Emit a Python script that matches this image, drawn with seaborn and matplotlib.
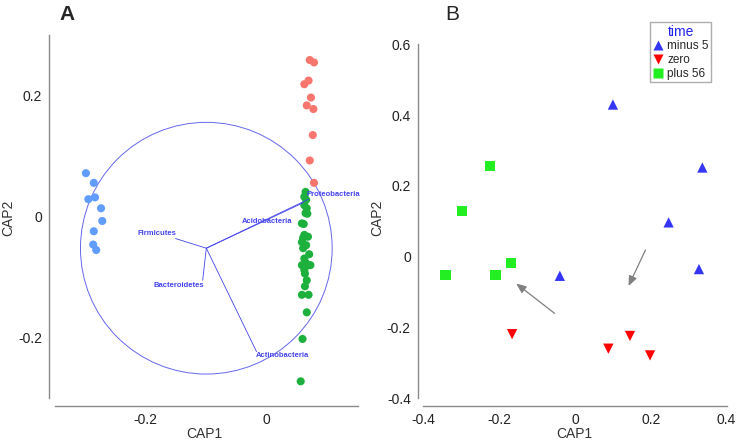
import numpy as np
import pandas as pd
import seaborn as sns
import matplotlib.pyplot as plt
from matplotlib.patches import Circle

sns.set_style("white")
plt.rcParams['font.family'] = ['Liberation Sans', 'DejaVu Sans']

# ---- panel A: CAP scores per group ----
a_blue_x = [-0.299, -0.286, -0.295, -0.284, -0.274, -0.272, -0.286, -0.287, -0.282]
a_blue_y = [0.072, 0.056, 0.029, 0.032, 0.014, -0.007, -0.024, -0.046, -0.055]
a_red_x = [0.071, 0.078, 0.062, 0.069, 0.073, 0.066, 0.077, 0.076, 0.071, 0.078]
a_red_y = [0.259, 0.255, 0.219, 0.225, 0.197, 0.184, 0.178, 0.135, 0.093, 0.056]
a_green_x = [0.064, 0.062, 0.065, 0.062, 0.066, 0.064, 0.067, 0.061, 0.058, 0.062,
             0.068, 0.058, 0.065, 0.060, 0.062, 0.065, 0.058, 0.069, 0.062, 0.072,
             0.063, 0.066, 0.063, 0.058, 0.069, 0.066, 0.059, 0.056, 0.060, 0.070]
a_green_y = [0.041, 0.033, 0.028, 0.019, 0.014, 0.006, 0.005, -0.012, -0.011, -0.030,
             -0.033, -0.042, -0.047, -0.052, -0.069, -0.077, -0.080, -0.080, -0.088, -0.080,
             -0.094, -0.105, -0.115, -0.129, -0.129, -0.158, -0.202, -0.272, -0.035, -0.062]

# biplot vectors
vec_names = ["Proteobacteria", "Acidobacteria", "Firmicutes", "Bacteroidetes", "Actinobacteria"]
vec_end_x = [0.069, 0.060, -0.151, -0.106, -0.017]
vec_end_y = [0.029, 0.023, -0.036, -0.105, -0.223]
vec_lab_x = [0.110, 0.000, -0.182, -0.145, 0.025]
vec_lab_y = [0.036, -0.008, -0.028, -0.114, -0.230]
vec_origin = (-0.100, -0.052)
circle_r = 0.208

# ---- panel B: CAP scores by time ----
b_time = ["minus 5"] * 5 + ["zero"] * 4 + ["plus 56"] * 5
b_x = [0.100, 0.336, 0.247, 0.327, -0.040,
       -0.166, 0.088, 0.145, 0.198,
       -0.224, -0.299, -0.342, -0.210, -0.168]
b_y = [0.430, 0.252, 0.097, -0.035, -0.054,
       -0.219, -0.260, -0.224, -0.279,
       0.257, 0.129, -0.051, -0.051, -0.017]
# arrows: (tail x, tail y, head x, head y)
b_arrows = [(-0.048, -0.165, -0.161, -0.071),
            (0.189, 0.026, 0.138, -0.090)]

axis_col = "#8a8a8a"
vec_col = "#4444ee"

fig = plt.figure(figsize=(7.38, 4.42), dpi=100)
axA = fig.add_axes([0.0664, 0.0821, 0.4214, 0.85])
axB = fig.add_axes([0.566, 0.0814, 0.4232, 0.8507])

# panel A
dfA = pd.DataFrame({
    "CAP1": a_blue_x + a_red_x + a_green_x,
    "CAP2": a_blue_y + a_red_y + a_green_y,
    "grp": ["b"] * len(a_blue_x) + ["r"] * len(a_red_x) + ["g"] * len(a_green_x),
})
sns.scatterplot(data=dfA, x="CAP1", y="CAP2", hue="grp",
                palette={"b": "#619CFF", "r": "#F8766D", "g": "#1DB03C"},
                s=34, edgecolor="none", legend=False, ax=axA, zorder=3)
axA.add_patch(Circle(vec_origin, circle_r, fill=False, edgecolor="#6666ee", lw=0.7, zorder=2))
for name, ex, ey, lx, ly in zip(vec_names, vec_end_x, vec_end_y, vec_lab_x, vec_lab_y):
    axA.plot([vec_origin[0], ex], [vec_origin[1], ey], color=vec_col, lw=0.6, zorder=4)
    axA.text(lx, ly, name, color=vec_col, fontsize=5.5, fontweight="bold",
             ha="center", va="center", zorder=5)
axA.set_xlim(-0.36, 0.154)
axA.set_ylim(-0.3123, 0.3086)
axA.set_xticks([-0.2, 0])
axA.set_xticklabels(["-0.2", "0"])
axA.set_yticks([-0.2, 0, 0.2])
axA.set_yticklabels(["-0.2", "0", "0.2"])
axA.spines["left"].set_bounds(-0.30, 0.30)
axA.spines["bottom"].set_bounds(-0.35, 0.15)
axA.text(-0.33, 0.335, "A", fontsize=15, fontweight="bold", ha="center", va="center")

# panel B
dfB = pd.DataFrame({"CAP1": b_x, "CAP2": b_y, "time": b_time})
sns.scatterplot(data=dfB, x="CAP1", y="CAP2", hue="time", style="time",
                hue_order=["minus 5", "zero", "plus 56"],
                style_order=["minus 5", "zero", "plus 56"],
                palette={"minus 5": "#3535f5", "zero": "#ff0000", "plus 56": "#22ee22"},
                markers={"minus 5": "^", "zero": "v", "plus 56": "s"},
                s=55, edgecolor="none", ax=axB, zorder=3)
for tx, ty, hx, hy in b_arrows:
    axB.annotate("", xy=(hx, hy), xytext=(tx, ty),
                 arrowprops=dict(arrowstyle="-|>,head_length=0.6,head_width=0.25",
                                 color="#808080", lw=0.9))
axB.set_xlim(-0.415, 0.409)
axB.set_ylim(-0.422, 0.6406)
axB.set_xticks([-0.4, -0.2, 0, 0.2, 0.4])
axB.set_xticklabels(["-0.4", "-0.2", "0", "0.2", "0.4"])
axB.set_yticks([-0.4, -0.2, 0, 0.2, 0.4, 0.6])
axB.set_yticklabels(["-0.4", "-0.2", "0", "0.2", "0.4", "0.6"])
axB.spines["left"].set_bounds(-0.4, 0.6)
axB.spines["bottom"].set_bounds(-0.4, 0.4)
axB.text(-0.325, 0.685, "B", fontsize=15, ha="center", va="center")
sns.move_legend(axB, "upper right", bbox_to_anchor=(0.9638, 0.9495),
                bbox_transform=fig.transFigure, title="time", frameon=True,
                fontsize=8.5, title_fontsize=10, handletextpad=0.35, borderpad=0.2,
                handlelength=0.9, labelspacing=0.15, borderaxespad=0,
                markerscale=0.9, fancybox=False)
leg = axB.get_legend()
leg.get_title().set_color("#2222ee")
leg.get_frame().set_edgecolor("#999999")

for ax in (axA, axB):
    for side in ("top", "right"):
        ax.spines[side].set_visible(False)
    for side in ("left", "bottom"):
        ax.spines[side].set_color(axis_col)
        ax.spines[side].set_linewidth(1.0)
    ax.tick_params(axis="both", direction="out", length=4, width=0.8,
                   color=axis_col, labelsize=10, labelcolor="#222222", pad=1)
    ax.set_xlabel("CAP1", fontsize=10, color="#333333", labelpad=0)
    ax.set_ylabel("CAP2", fontsize=10, color="#333333", labelpad=2)

fig.savefig("out.png", dpi=100)
